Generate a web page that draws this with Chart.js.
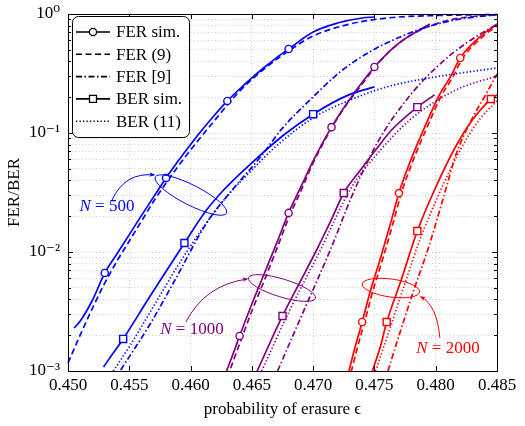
<!DOCTYPE html>
<html>
<head>
<meta charset="utf-8">
<script src="https://cdn.jsdelivr.net/npm/chart.js@4.4.1/dist/chart.umd.min.js"></script>
<style>
  html, body { margin: 0; padding: 0; background: #fff; }
</style>
</head>
<body>
<canvas id="myChart" width="525" height="426"></canvas>
<script>
'use strict';

// axis ticks
const xTicks = [0.450, 0.455, 0.460, 0.465, 0.470, 0.475, 0.480, 0.485];
const yMajorTicks = [0.001, 0.01, 0.1, 1];
const yTickLabels = ['10\u207B\u00B3', '10\u207B\u00B2', '10\u207B\u00B9', '10\u2070'];

// N = 500
const b500FerSimX = [0.4505, 0.451, 0.452, 0.453, 0.454, 0.455, 0.456, 0.457, 0.458, 0.459, 0.460, 0.461, 0.462, 0.463, 0.464, 0.465, 0.466, 0.467, 0.468, 0.470, 0.472, 0.474, 0.475];
const b500FerSimY = [0.0023, 0.00263, 0.00395, 0.00667, 0.00968, 0.0140, 0.0203, 0.0292, 0.0419, 0.0585, 0.0802, 0.108, 0.143, 0.186, 0.234, 0.290, 0.355, 0.428, 0.508, 0.706, 0.840, 0.926, 0.944];
const b500FerSimMarks = [0.453, 0.458, 0.463, 0.468];
const b500FerEq9X = [0.450, 0.451, 0.452, 0.453, 0.454, 0.455, 0.456, 0.457, 0.458, 0.459, 0.460, 0.462, 0.464, 0.466, 0.468, 0.470, 0.473, 0.476, 0.480, 0.485];
const b500FerEq9Y = [0.00117, 0.00201, 0.00338, 0.00548, 0.0084, 0.01237, 0.0182, 0.0268, 0.038, 0.0528, 0.072, 0.129, 0.225, 0.345, 0.489, 0.653, 0.824, 0.925, 0.971, 0.99];
const b500FerRefX = [0.4543, 0.4567, 0.4588, 0.4613, 0.4634, 0.4657, 0.4675, 0.4700, 0.4722, 0.4746, 0.4771, 0.4793, 0.4820, 0.485];
const b500FerRefY = [0.00102, 0.00248, 0.0060, 0.0175, 0.0332, 0.0628, 0.110, 0.201, 0.326, 0.480, 0.641, 0.778, 0.908, 0.99];
const b500BerSimX = [0.4529, 0.4533, 0.4545, 0.4566, 0.4588, 0.4595, 0.4613, 0.4627, 0.4648, 0.4676, 0.4700, 0.4729, 0.4750];
const b500BerSimY = [0.00108, 0.00124, 0.00186, 0.00410, 0.00920, 0.0119, 0.0225, 0.0332, 0.0538, 0.0962, 0.144, 0.209, 0.244];
const b500BerSimMarks = [0.4545, 0.4595, 0.4700];
const b500BerEq11X = [0.4537, 0.455, 0.457, 0.459, 0.461, 0.463, 0.465, 0.467, 0.470, 0.473, 0.476, 0.480, 0.485];
const b500BerEq11Y = [0.001, 0.0016, 0.00352, 0.00778, 0.0159, 0.0296, 0.0489, 0.0778, 0.134, 0.189, 0.244, 0.296, 0.352];

// N = 1000
const p1000FerSimX = [0.4629, 0.4635, 0.464, 0.465, 0.466, 0.467, 0.468, 0.469, 0.470, 0.4715, 0.473, 0.475, 0.477, 0.4795];
const p1000FerSimY = [0.00098, 0.00142, 0.00197, 0.00366, 0.00653, 0.0117, 0.0213, 0.0352, 0.0582, 0.112, 0.193, 0.359, 0.570, 0.824];
const p1000FerSimMarks = [0.464, 0.468, 0.4715, 0.475];
const p1000FerEq9X = [0.463, 0.464, 0.465, 0.466, 0.467, 0.468, 0.469, 0.470, 0.472, 0.474, 0.476, 0.478, 0.480, 0.482, 0.485];
const p1000FerEq9Y = [0.00089, 0.00169, 0.00319, 0.00571, 0.0104, 0.0193, 0.0326, 0.056, 0.134, 0.258, 0.461, 0.667, 0.824, 0.926, 0.981];
const p1000FerRefX = [0.4671, 0.4689, 0.4714, 0.4733, 0.4753, 0.4777, 0.4801, 0.4825, 0.485];
const p1000FerRefY = [0.001, 0.00268, 0.0104, 0.0319, 0.085, 0.195, 0.36, 0.57, 0.82];
const p1000BerSimX = [0.4654, 0.4665, 0.4675, 0.4688, 0.4702, 0.4714, 0.4725, 0.4738, 0.4751, 0.4764, 0.4785, 0.4799];
const p1000BerSimY = [0.00098, 0.00175, 0.0029, 0.00528, 0.0100, 0.0179, 0.0313, 0.048, 0.072, 0.106, 0.165, 0.209];
const p1000BerSimMarks = [0.4675, 0.4725, 0.4785];
const p1000BerEq11X = [0.4658, 0.4681, 0.4706, 0.4730, 0.4755, 0.4779, 0.4799, 0.4820, 0.485];
const p1000BerEq11Y = [0.001, 0.00326, 0.0104, 0.0332, 0.072, 0.129, 0.182, 0.239, 0.301];

// N = 2000
const r2000FerSimX = [0.4729, 0.4734, 0.474, 0.4746, 0.4755, 0.4763, 0.477, 0.4779, 0.479, 0.4803, 0.4812, 0.482, 0.4836, 0.485];
const r2000FerSimY = [0.00098, 0.00156, 0.00258, 0.00444, 0.00891, 0.0172, 0.0313, 0.057, 0.106, 0.209, 0.296, 0.427, 0.641, 0.824];
const r2000FerSimMarks = [0.474, 0.477, 0.482];
const r2000FerEq9X = [0.4731, 0.4736, 0.4742, 0.4748, 0.4757, 0.4765, 0.4772, 0.4781, 0.4792, 0.4805, 0.4814, 0.4822, 0.4838, 0.485];
const r2000FerEq9Y = [0.00098, 0.00156, 0.00258, 0.00444, 0.00891, 0.0172, 0.0313, 0.057, 0.106, 0.209, 0.296, 0.427, 0.641, 0.80];
const r2000FerRefX = [0.4761, 0.4771, 0.4783, 0.4794, 0.4806, 0.4817, 0.4830, 0.4842, 0.485];
const r2000FerRefY = [0.001, 0.00213, 0.00508, 0.0108, 0.028, 0.0679, 0.134, 0.221, 0.313];
const r2000BerSimX = [0.4748, 0.4755, 0.476, 0.4771, 0.4785, 0.4799, 0.4817, 0.4830, 0.4845, 0.485];
const r2000BerSimY = [0.00098, 0.00162, 0.00258, 0.00548, 0.015, 0.0332, 0.0793, 0.129, 0.193, 0.209];
const r2000BerSimMarks = [0.476, 0.4785, 0.4845];
const r2000BerEq11X = [0.4751, 0.4763, 0.4775, 0.4787, 0.4803, 0.4820, 0.4836, 0.485];
const r2000BerEq11Y = [0.001, 0.00234, 0.00548, 0.0126, 0.0313, 0.072, 0.131, 0.186];

const BLUE = '#0000ff';
const PURPLE = '#800080';
const RED = '#ff0000';
const FONT = "'Liberation Serif', 'Times New Roman', 'DejaVu Serif', serif";

// line styles used by the curves and the legend
const styles = {
  ferSim: { dash: [], marker: 'circle' },
  ferEq9: { dash: [6, 3.5], marker: null },
  ferRef: { dash: [6, 2.5, 1.5, 2.5], marker: null },
  berSim: { dash: [], marker: 'rect' },
  berEq11: { dash: [1.3, 2.2], marker: null }
};

function makeSet(label, xs, ys, color, style, marks) {
  let st = styles[style];
  let pts = [];
  for (let i = 0; i < xs.length; i++) {
    pts.push({ x: xs[i], y: ys[i] });
  }
  return {
    label: label,
    data: pts,
    borderColor: color,
    borderWidth: 1.7,
    borderDash: st.dash,
    cubicInterpolationMode: 'monotone',
    fill: false,
    pointStyle: st.marker || 'circle',
    pointRadius: ctx => (marks && marks.includes(xs[ctx.dataIndex])) ? (st.marker === 'rect' ? 5 : 3.6) : 0,
    pointBorderWidth: 1.4,
    pointBorderColor: color,
    pointBackgroundColor: '#fff',
    clip: 1
  };
}

let datasets = [
  makeSet('FER sim. N=500', b500FerSimX, b500FerSimY, BLUE, 'ferSim', b500FerSimMarks),
  makeSet('FER (9) N=500', b500FerEq9X, b500FerEq9Y, BLUE, 'ferEq9'),
  makeSet('FER [9] N=500', b500FerRefX, b500FerRefY, BLUE, 'ferRef'),
  makeSet('BER sim. N=500', b500BerSimX, b500BerSimY, BLUE, 'berSim', b500BerSimMarks),
  makeSet('BER (11) N=500', b500BerEq11X, b500BerEq11Y, BLUE, 'berEq11'),
  makeSet('FER sim. N=1000', p1000FerSimX, p1000FerSimY, PURPLE, 'ferSim', p1000FerSimMarks),
  makeSet('FER (9) N=1000', p1000FerEq9X, p1000FerEq9Y, PURPLE, 'ferEq9'),
  makeSet('FER [9] N=1000', p1000FerRefX, p1000FerRefY, PURPLE, 'ferRef'),
  makeSet('BER sim. N=1000', p1000BerSimX, p1000BerSimY, PURPLE, 'berSim', p1000BerSimMarks),
  makeSet('BER (11) N=1000', p1000BerEq11X, p1000BerEq11Y, PURPLE, 'berEq11'),
  makeSet('FER sim. N=2000', r2000FerSimX, r2000FerSimY, RED, 'ferSim', r2000FerSimMarks),
  makeSet('FER (9) N=2000', r2000FerEq9X, r2000FerEq9Y, RED, 'ferEq9'),
  makeSet('FER [9] N=2000', r2000FerRefX, r2000FerRefY, RED, 'ferRef'),
  makeSet('BER sim. N=2000', r2000BerSimX, r2000BerSimY, RED, 'berSim', r2000BerSimMarks),
  makeSet('BER (11) N=2000', r2000BerEq11X, r2000BerEq11Y, RED, 'berEq11')
];

// legend entries (black samples, like the pgfplots legend)
const legendItems = [
  { text: 'FER sim.', style: 'ferSim' },
  { text: 'FER (9)', style: 'ferEq9' },
  { text: 'FER [9]', style: 'ferRef' },
  { text: 'BER sim.', style: 'berSim' },
  { text: 'BER (11)', style: 'berEq11' }
];

// ellipse + arrow annotations, anchored in data coordinates
const notes = [
  { n: '500', color: BLUE, tx: 0.45318, ty: 0.0239, ex: 0.46003, ey: 0.0301, rx: 40, ry: 10, rot: 27,
    arrow: [[0.45359, 0.0273], [0.45465, 0.047], [0.45701, 0.0444]] },
  { n: '1000', color: PURPLE, tx: 0.46011, ty: 0.00221, ex: 0.46746, ey: 0.00498, rx: 35, ry: 9, rot: 17,
    arrow: [[0.45962, 0.00258], [0.46117, 0.00528], [0.4646, 0.00593]] },
  { n: '2000', color: RED, tx: 0.48100, ty: 0.00153, ex: 0.47635, ey: 0.00498, rx: 29, ry: 9, rot: 8,
    arrow: [[0.48034, 0.00189], [0.4801, 0.00359], [0.47879, 0.00419]] }
];

function drawMarker(ctx, kind, x, y) {
  ctx.beginPath();
  if (kind === 'circle') {
    ctx.arc(x, y, 3.6, 0, Math.PI * 2);
  } else {
    ctx.rect(x - 3.5, y - 3.5, 7, 7);
  }
  ctx.fillStyle = '#fff';
  ctx.fill();
  ctx.stroke();
}

const framePlugin = {
  id: 'frame',
  afterDatasetsDraw(chart) {
    const { ctx, chartArea: a, scales } = chart;
    ctx.save();
    ctx.strokeStyle = '#000';
    ctx.lineWidth = 1;
    ctx.setLineDash([]);
    // inner tick marks
    ctx.beginPath();
    scales.y.ticks.forEach(t => {
      let py = Math.round(scales.y.getPixelForValue(t.value)) + 0.5;
      let len = yMajorTicks.includes(t.value) ? 5 : 3;
      ctx.moveTo(a.left, py); ctx.lineTo(a.left + len, py);
      ctx.moveTo(a.right, py); ctx.lineTo(a.right - len, py);
    });
    scales.x.ticks.forEach(t => {
      let px = Math.round(scales.x.getPixelForValue(t.value)) + 0.5;
      ctx.moveTo(px, a.bottom); ctx.lineTo(px, a.bottom - 5);
      ctx.moveTo(px, a.top); ctx.lineTo(px, a.top + 5);
    });
    ctx.stroke();
    ctx.strokeRect(Math.round(a.left) + 0.5, Math.round(a.top) + 0.5, Math.round(a.width), Math.round(a.height));

    // annotations
    notes.forEach(nt => {
      let xs = scales.x, ys = scales.y;
      ctx.strokeStyle = nt.color;
      ctx.fillStyle = nt.color;
      ctx.lineWidth = 1;
      ctx.beginPath();
      ctx.ellipse(xs.getPixelForValue(nt.ex), ys.getPixelForValue(nt.ey), nt.rx, nt.ry, nt.rot * Math.PI / 180, 0, Math.PI * 2);
      ctx.stroke();

      let p = nt.arrow.map(q => [xs.getPixelForValue(q[0]), ys.getPixelForValue(q[1])]);
      ctx.beginPath();
      ctx.moveTo(p[0][0], p[0][1]);
      ctx.quadraticCurveTo(p[1][0], p[1][1], p[2][0], p[2][1]);
      ctx.stroke();
      let ang = Math.atan2(p[2][1] - p[1][1], p[2][0] - p[1][0]);
      ctx.beginPath();
      ctx.moveTo(p[2][0] + 1.5 * Math.cos(ang), p[2][1] + 1.5 * Math.sin(ang));
      ctx.lineTo(p[2][0] - 5 * Math.cos(ang - 0.45), p[2][1] - 5 * Math.sin(ang - 0.45));
      ctx.lineTo(p[2][0] - 3 * Math.cos(ang), p[2][1] - 3 * Math.sin(ang));
      ctx.lineTo(p[2][0] - 5 * Math.cos(ang + 0.45), p[2][1] - 5 * Math.sin(ang + 0.45));
      ctx.closePath();
      ctx.fill();

      // label: italic N, then " = 500"
      let cx = xs.getPixelForValue(nt.tx), cy = ys.getPixelForValue(nt.ty);
      let italic = 'italic 17px ' + FONT, normal = '17px ' + FONT;
      ctx.font = italic;
      let w1 = ctx.measureText('N').width;
      ctx.font = normal;
      let rest = ' = ' + nt.n;
      let w2 = ctx.measureText(rest).width;
      let x0 = cx - (w1 + w2) / 2;
      ctx.textBaseline = 'middle';
      ctx.textAlign = 'left';
      ctx.font = italic;
      ctx.fillText('N', x0, cy);
      ctx.font = normal;
      ctx.fillText(rest, x0 + w1, cy);
    });

    // legend box
    let lx = a.left + 4, ly = a.top + 2, lw = 117, lh = 121;
    ctx.beginPath();
    ctx.roundRect(lx + 0.5, ly + 0.5, lw, lh, 6);
    ctx.fillStyle = '#fff';
    ctx.fill();
    ctx.strokeStyle = '#000';
    ctx.lineWidth = 1;
    ctx.stroke();
    legendItems.forEach((it, i) => {
      let st = styles[it.style];
      let y = ly + 16 + i * 22.3;
      ctx.strokeStyle = '#000';
      ctx.lineWidth = 1.6;
      ctx.setLineDash(st.dash);
      ctx.beginPath();
      ctx.moveTo(lx + 4, y);
      ctx.lineTo(lx + 38, y);
      ctx.stroke();
      ctx.setLineDash([]);
      if (st.marker) {
        ctx.lineWidth = 1.3;
        drawMarker(ctx, st.marker, lx + 21, y);
      }
      ctx.fillStyle = '#000';
      ctx.font = '17px ' + FONT;
      ctx.textAlign = 'left';
      ctx.textBaseline = 'middle';
      ctx.fillText(it.text, lx + 44, y + 1);
    });
    ctx.restore();
  }
};

let gridStyle = { color: 'rgba(0,0,0,0.25)', lineWidth: 0.8, drawTicks: false };

const ctx = document.getElementById('myChart').getContext('2d');
const myChart = new Chart(ctx, {
  type: 'line',
  data: { datasets: datasets },
  options: {
    responsive: false,
    animation: false,
    events: [],
    layout: { padding: { top: 14, right: 28, left: 0, bottom: 0 } },
    plugins: { legend: { display: false }, tooltip: { enabled: false } },
    scales: {
      x: {
        type: 'linear',
        min: 0.450,
        max: 0.485,
        afterBuildTicks: s => { s.ticks = xTicks.map(v => ({ value: v })); },
        afterFit: s => { s.height = 55; s.paddingLeft = 0; s.paddingRight = 0; },
        ticks: {
          callback: v => v.toFixed(3),
          font: { family: FONT, size: 17 },
          color: '#000',
          padding: 4,
          maxRotation: 0,
          autoSkip: false
        },
        grid: gridStyle,
        border: { display: false, dash: [1, 2.5] },
        title: {
          display: true,
          text: 'probability of erasure \u03F5',
          font: { family: FONT, size: 17 },
          color: '#000',
          padding: { top: 4, bottom: 6 }
        }
      },
      y: {
        type: 'logarithmic',
        min: 0.001,
        max: 1,
        afterBuildTicks: s => {
          let t = [];
          yMajorTicks.forEach((d, i) => {
            t.push({ value: d });
            if (i < yMajorTicks.length - 1) {
              for (let m = 2; m <= 9; m++) t.push({ value: m * d });
            }
          });
          s.ticks = t;
        },
        afterFit: s => { s.width = 68; s.paddingTop = 0; s.paddingBottom = 0; },
        ticks: {
          callback: v => {
            let i = yMajorTicks.indexOf(v);
            return i >= 0 ? yTickLabels[i] : '';
          },
          font: { family: FONT, size: 17 },
          color: '#000',
          padding: 8,
          autoSkip: false
        },
        grid: gridStyle,
        border: { display: false, dash: [1, 2.5] },
        title: {
          display: true,
          text: 'FER/BER',
          font: { family: FONT, size: 17 },
          color: '#000',
          padding: { top: 4, bottom: 0 }
        }
      }
    }
  },
  plugins: [framePlugin]
});
</script>
</body>
</html>
